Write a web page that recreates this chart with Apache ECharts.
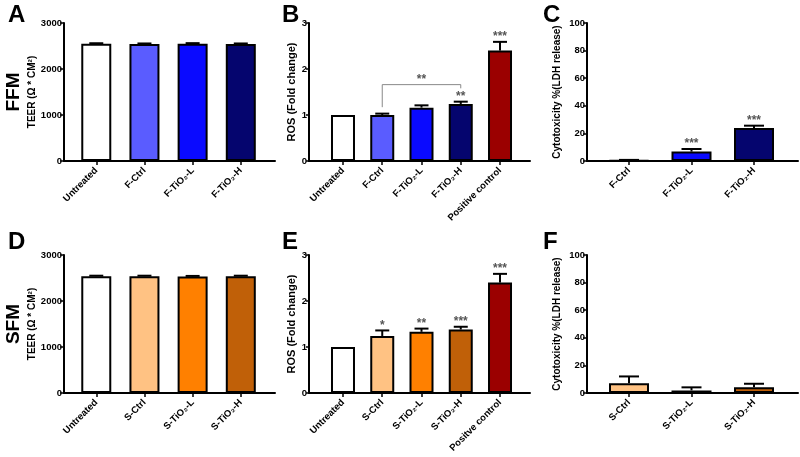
<!DOCTYPE html>
<html><head><meta charset="utf-8">
<script src="https://cdn.jsdelivr.net/npm/echarts@6/dist/echarts.min.js"></script>
<style>html,body{margin:0;padding:0;background:#fff}#c{width:800px;height:457px}</style>
</head><body><div id="c"></div>
<script>
// ---------------- DATA ----------------
const teerCatsF = ['Untreated', 'F-Ctrl', 'F-TiO₂-L', 'F-TiO₂-H'];
const teerValsF = [2550, 2545, 2550, 2545];
const teerErrF  = [10, 10, 12, 10];

const rosCatsF  = ['Untreated', 'F-Ctrl', 'F-TiO₂-L', 'F-TiO₂-H', 'Positive control'];
const rosValsF  = [1.0, 1.0, 1.16, 1.24, 2.40];
const rosErrF   = [0, 0.03, 0.05, 0.05, 0.19];
const rosStarsF = ['', '', '', '**', '***'];

const cytoCatsF  = ['F-Ctrl', 'F-TiO₂-L', 'F-TiO₂-H'];
const cytoValsF  = [0.5, 6.8, 23.9];
const cytoErrF   = [0.3, 1.9, 1.7];
const cytoStarsF = ['', '***', '***'];

const teerCatsS = ['Untreated', 'S-Ctrl', 'S-TiO₂-L', 'S-TiO₂-H'];
const teerValsS = [2540, 2540, 2535, 2540];
const teerErrS  = [10, 10, 10, 10];

const rosCatsS  = ['Untreated', 'S-Ctrl', 'S-TiO₂-L', 'S-TiO₂-H', 'Positve control'];
const rosValsS  = [1.0, 1.24, 1.33, 1.38, 2.40];
const rosErrS   = [0, 0.12, 0.07, 0.06, 0.19];
const rosStarsS = ['', '*', '**', '***', '***'];

const cytoCatsS  = ['S-Ctrl', 'S-TiO₂-L', 'S-TiO₂-H'];
const cytoValsS  = [7.0, 1.9, 4.1];
const cytoErrS   = [5.0, 2.2, 2.6];
const cytoStarsS = ['', '', ''];

// comparison bracket in panel B
const bracketPair  = ['F-Ctrl', 'F-TiO₂-H'];
const bracketY     = 1.66;
const bracketLegs  = [1.17, 1.58];
const bracketStars = '**';

const teerTicks = [0, 1000, 2000, 3000];
const rosTicks  = [0, 1, 2, 3];
const cytoTicks = [0, 20, 40, 60, 80, 100];

// ---------------- STYLES ----------------
const colF = { 'Untreated': '#ffffff', 'F-Ctrl': '#5a5cff', 'F-TiO₂-L': '#0a0aff', 'F-TiO₂-H': '#05056e', 'Positive control': '#9b0000' };
const colS = { 'Untreated': '#ffffff', 'S-Ctrl': '#ffc283', 'S-TiO₂-L': '#ff8000', 'S-TiO₂-H': '#c06008', 'Positve control': '#9b0000' };
const FONT = 'Liberation Sans, Arial, sans-serif';

const panels = [
  { cats: teerCatsF, vals: teerValsF, errs: teerErrF, stars: ['', '', '', ''], col: colF, ticks: teerTicks, name: 'TEER (Ω * CM²)', nameGap: 19,
    grid: { left: 64, top: 23, width: 211, height: 138 }, xr: [-0.67, 3.71], bw: 30, cap: 14, tl: 4 },
  { cats: rosCatsF, vals: rosValsF, errs: rosErrF, stars: rosStarsF, col: colF, ticks: rosTicks, name: 'ROS (Fold change)', nameGap: 5,
    grid: { left: 309, top: 23, width: 221, height: 138 }, xr: [-0.866, 4.764], bw: 24, cap: 14, tl: 3 },
  { cats: cytoCatsF, vals: cytoValsF, errs: cytoErrF, stars: cytoStarsF, col: colF, ticks: cytoTicks, name: 'Cytotoxicity %(LDH release)', nameGap: 25,
    grid: { left: 587, top: 23, width: 211, height: 138 }, xr: [-0.672, 2.704], bw: 40, cap: 20, tl: 4 },
  { cats: teerCatsS, vals: teerValsS, errs: teerErrS, stars: ['', '', '', ''], col: colS, ticks: teerTicks, name: 'TEER (Ω * CM²)', nameGap: 19,
    grid: { left: 64, top: 255, width: 211, height: 138 }, xr: [-0.67, 3.71], bw: 30, cap: 14, tl: 4 },
  { cats: rosCatsS, vals: rosValsS, errs: rosErrS, stars: rosStarsS, col: colS, ticks: rosTicks, name: 'ROS (Fold change)', nameGap: 5,
    grid: { left: 309, top: 255, width: 221, height: 138 }, xr: [-0.866, 4.764], bw: 24, cap: 14, tl: 3 },
  { cats: cytoCatsS, vals: cytoValsS, errs: cytoErrS, stars: cytoStarsS, col: colS, ticks: cytoTicks, name: 'Cytotoxicity %(LDH release)', nameGap: 25,
    grid: { left: 587, top: 255, width: 211, height: 138 }, xr: [-0.672, 2.704], bw: 40, cap: 20, tl: 4 }
];

function errRender(errs, stars, capW) {
  return function (params, api) {
    const i = params.dataIndex;
    const x = api.value(0), y = api.value(1), e = api.value(2);
    const p0 = api.coord([x, y]);
    const p1 = api.coord([x, y + e]);
    const ch = [];
    if (e > 0) {
      ch.push({ type: 'line', shape: { x1: p0[0], y1: p0[1], x2: p1[0], y2: p1[1] }, style: { stroke: '#000', lineWidth: 2 } });
      ch.push({ type: 'line', shape: { x1: p1[0] - capW / 2, y1: p1[1], x2: p1[0] + capW / 2, y2: p1[1] }, style: { stroke: '#000', lineWidth: 2 } });
    }
    if (stars[i]) {
      ch.push({ type: 'text', x: p1[0], y: p1[1] + 1,
        style: { text: stars[i], fill: '#555', font: 'bold 12px ' + FONT, align: 'center', verticalAlign: 'bottom', textAlign: 'center', textVerticalAlign: 'bottom' } });
    }
    return { type: 'group', children: ch };
  };
}

const grid = [], xAxis = [], yAxis = [], series = [];
panels.forEach((p, k) => {
  const idx = p.cats.map((c, i) => i);
  grid.push(Object.assign({ containLabel: false }, p.grid));
  xAxis.push({
    type: 'value', gridIndex: k, min: p.xr[0], max: p.xr[1],
    splitLine: { show: false },
    axisLine: { show: true, onZero: false, lineStyle: { color: '#000', width: 2 } },
    axisTick: { show: true, customValues: idx, length: 4, lineStyle: { color: '#000', width: 1.5 } },
    axisLabel: { show: true, customValues: idx, formatter: v => p.cats[Math.round(v)], rotate: 45, margin: 8,
      fontSize: 9.5, fontWeight: 'bold', color: '#000', fontFamily: FONT }
  });
  yAxis.push({
    type: 'value', gridIndex: k, min: p.ticks[0], max: p.ticks[p.ticks.length - 1], interval: p.ticks[1] - p.ticks[0],
    name: p.name, nameLocation: 'middle', nameGap: p.nameGap,
    nameTextStyle: { fontSize: k % 3 === 1 ? 11 : 10, fontWeight: 'bold', color: '#000', fontFamily: FONT },
    splitLine: { show: false },
    axisLine: { show: true, onZero: false, lineStyle: { color: '#000', width: 2 } },
    axisTick: { show: true, length: p.tl, lineStyle: { color: '#000', width: 1.5 } },
    axisLabel: { margin: 2, fontSize: 9.5, fontWeight: 'bold', color: '#000', fontFamily: FONT, formatter: v => String(v) }
  });
  series.push({
    type: 'bar', xAxisIndex: k, yAxisIndex: k, barWidth: p.bw, silent: true,
    itemStyle: { borderColor: '#000', borderWidth: 2 },
    data: p.vals.map((v, i) => ({ value: [i, v], itemStyle: { color: p.col[p.cats[i]] } })),
    z: 2
  });
  series.push({
    type: 'custom', xAxisIndex: k, yAxisIndex: k, silent: true, z: 3,
    renderItem: errRender(p.errs, p.stars, p.cap),
    data: p.vals.map((v, i) => [i, v, p.errs[i]])
  });
});

// bracket (panel B)
const bi0 = rosCatsF.indexOf(bracketPair[0]), bi1 = rosCatsF.indexOf(bracketPair[1]);
series.push({
  type: 'custom', xAxisIndex: 1, yAxisIndex: 1, silent: true, z: 4,
  data: [[bi0, bi1, bracketY, bracketLegs[0], bracketLegs[1]]],
  renderItem: function (params, api) {
    const a = api.coord([api.value(0), api.value(3)]);
    const b = api.coord([api.value(0), api.value(2)]);
    const c = api.coord([api.value(1), api.value(2)]);
    const d = api.coord([api.value(1), api.value(4)]);
    return { type: 'group', children: [
      { type: 'polyline', shape: { points: [a, b, c, d] }, style: { stroke: '#888', lineWidth: 1, fill: null } },
      { type: 'text', x: (b[0] + c[0]) / 2, y: b[1] + 1,
        style: { text: bracketStars, fill: '#555', font: 'bold 12px ' + FONT, align: 'center', verticalAlign: 'bottom', textAlign: 'center', textVerticalAlign: 'bottom' } }
    ] };
  }
});

const lbl = (t, x, y) => ({ type: 'text', x, y, style: { text: t, fill: '#000', font: 'bold 24px ' + FONT, textVerticalAlign: 'top', verticalAlign: 'top' } });
const graphic = [
  lbl('A', 8, 3), lbl('B', 282, 3), lbl('C', 543, 3),
  lbl('D', 8, 230), lbl('E', 282, 230), lbl('F', 543, 230),
  { type: 'text', x: 14, y: 92, rotation: Math.PI / 2, style: { text: 'FFM', fill: '#000', font: 'bold 19px ' + FONT, align: 'center', verticalAlign: 'middle', textAlign: 'center', textVerticalAlign: 'middle' } },
  { type: 'text', x: 14, y: 324, rotation: Math.PI / 2, style: { text: 'SFM', fill: '#000', font: 'bold 19px ' + FONT, align: 'center', verticalAlign: 'middle', textAlign: 'center', textVerticalAlign: 'middle' } }
];

const chart = echarts.init(document.getElementById('c'), null, { renderer: 'canvas' });
chart.setOption({ animation: false, backgroundColor: '#fff', grid, xAxis, yAxis, series, graphic });
</script></body></html>
